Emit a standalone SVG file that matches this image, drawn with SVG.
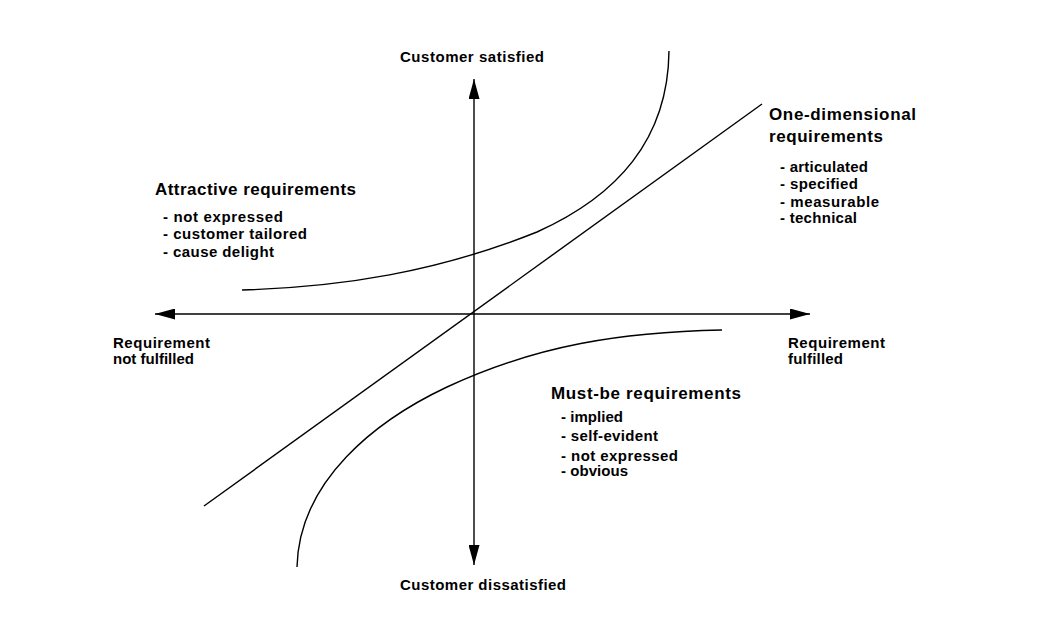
<svg xmlns="http://www.w3.org/2000/svg" width="1060" height="622" viewBox="0 0 1060 622">
  <style>
    .ln { fill: none; stroke: #000; stroke-width: 1.4; }
    text { font-family: "Liberation Sans", Arial, sans-serif; font-weight: bold; fill: #000; }
    .hd { font-size: 17px; }
    .ax { font-size: 15px; }
    .li { font-size: 15px; }
  </style>
  <defs>
    <marker id="arrow" markerUnits="userSpaceOnUse" markerWidth="20" markerHeight="11" refX="20" refY="5.5" orient="auto-start-reverse" viewBox="0 0 20 11">
      <path d="M0,0 L20,5.5 L0,11 Z" fill="#000"/>
    </marker>
  </defs>
  <rect width="1060" height="622" fill="#fff"/>

  <g id="connectors">
    <line id="axis-x" class="ln" x1="155" y1="314" x2="810" y2="314" marker-start="url(#arrow)" marker-end="url(#arrow)"/>
    <line id="axis-y" class="ln" x1="474" y1="79" x2="474" y2="565" marker-start="url(#arrow)" marker-end="url(#arrow)"/>
    <line id="one-dimensional-line" class="ln" x1="204" y1="506" x2="762" y2="104"/>
    <path id="attractive-curve" class="ln" d="M242,290 C342,287 437,272 537,232 C617,196 668,140 669,51"/>
    <path id="must-be-curve" class="ln" d="M297,567 C299,480 377,420 447,387 C537,345 622,332 722,330"/>
  </g>

  <g id="axis-top">
    <text class="ax" x="400" y="62" textLength="144" lengthAdjust="spacing">Customer satisfied</text>
  </g>
  <g id="axis-bottom">
    <text class="ax" x="400" y="590" textLength="166" lengthAdjust="spacing">Customer dissatisfied</text>
  </g>
  <g id="axis-left">
    <text class="ax" x="113" y="348" textLength="97" lengthAdjust="spacing">Requirement</text>
    <text class="ax" x="113" y="364" textLength="81" lengthAdjust="spacing">not fulfilled</text>
  </g>
  <g id="axis-right">
    <text class="ax" x="788" y="348" textLength="97" lengthAdjust="spacing">Requirement</text>
    <text class="ax" x="788" y="364" textLength="55" lengthAdjust="spacing">fulfilled</text>
  </g>

  <g id="attractive">
    <text class="hd" x="155" y="195" textLength="201" lengthAdjust="spacing">Attractive requirements</text>
    <text class="li" x="163" y="222" textLength="120" lengthAdjust="spacing">- not expressed</text>
    <text class="li" x="163" y="239" textLength="144" lengthAdjust="spacing">- customer tailored</text>
    <text class="li" x="163" y="257" textLength="111" lengthAdjust="spacing">- cause delight</text>
  </g>

  <g id="one-dimensional">
    <text class="hd" x="769" y="120" textLength="147" lengthAdjust="spacing">One-dimensional</text>
    <text class="hd" x="769" y="142" textLength="114" lengthAdjust="spacing">requirements</text>
    <text class="li" x="780" y="172" textLength="88" lengthAdjust="spacing">- articulated</text>
    <text class="li" x="780" y="189" textLength="78" lengthAdjust="spacing">- specified</text>
    <text class="li" x="780" y="207" textLength="99" lengthAdjust="spacing">- measurable</text>
    <text class="li" x="780" y="223" textLength="77" lengthAdjust="spacing">- technical</text>
  </g>

  <g id="must-be">
    <text class="hd" x="551" y="399" textLength="190" lengthAdjust="spacing">Must-be requirements</text>
    <text class="li" x="561" y="422" textLength="62" lengthAdjust="spacing">- implied</text>
    <text class="li" x="561" y="441" textLength="97" lengthAdjust="spacing">- self-evident</text>
    <text class="li" x="561" y="461" textLength="117" lengthAdjust="spacing">- not expressed</text>
    <text class="li" x="561" y="476" textLength="67" lengthAdjust="spacing">- obvious</text>
  </g>
</svg>
